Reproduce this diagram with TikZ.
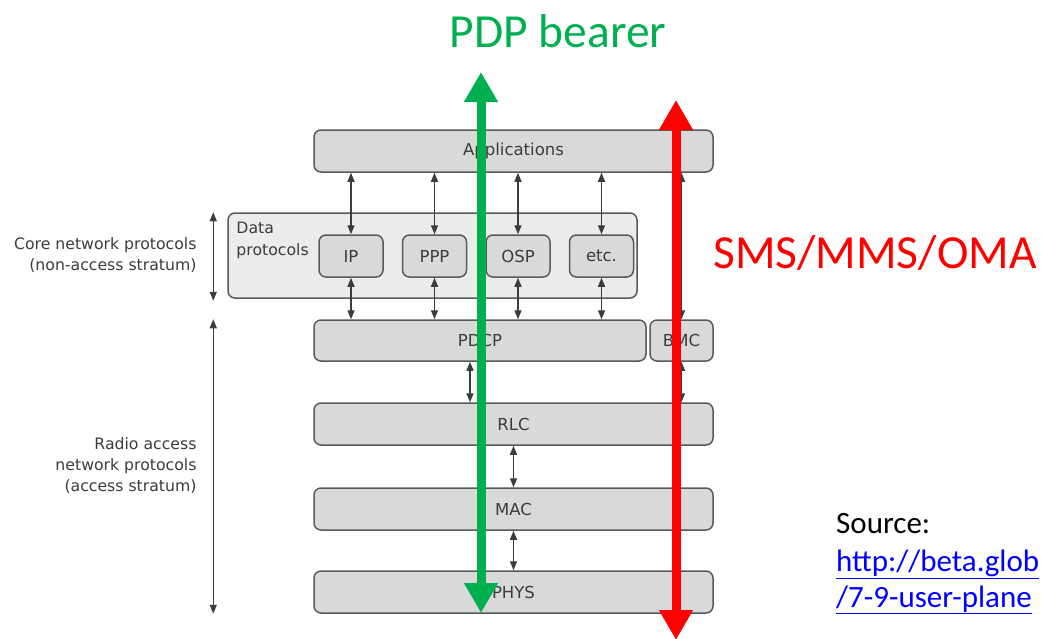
\documentclass[tikz,border=0pt]{standalone}
\usepackage{fontspec}
\setmainfont{Carlito}
\newfontfamily\diagfont{DejaVu Sans}
\usetikzlibrary{arrows.meta,positioning}

\definecolor{boxgray}{HTML}{D9D9D9}
\definecolor{panelgray}{HTML}{ECECEC}
\definecolor{edgegray}{HTML}{595959}
\definecolor{inkgray}{HTML}{3C3C3C}
\definecolor{bearergreen}{HTML}{00B050}

\tikzset{
  layer/.style={draw=edgegray, line width=1.5pt, fill=boxgray, rounded corners=7pt,
    minimum width=399pt, minimum height=42pt, inner sep=0pt,
    font=\diagfont\fontsize{16.5}{18}\selectfont, text=inkgray},
  proto/.style={layer, minimum width=64pt},
  panel/.style={draw=edgegray, line width=1.5pt, fill=panelgray, rounded corners=7pt,
    minimum width=409pt, minimum height=85pt},
  side/.style={align=right, font=\diagfont\fontsize{15.7}{21}\selectfont, text=inkgray},
  link/.style={{Triangle[width=7pt,length=9pt]}-{Triangle[width=7pt,length=9pt]},
    line width=1.4pt, draw=inkgray},
  bearer/.style={{Triangle[width=32pt,length=30pt]}-{Triangle[width=32pt,length=30pt]},
    line width=9pt},
  big/.style={font=\fontsize{47.5}{50}\selectfont},
  cite/.style={anchor=base west, inner sep=0pt, font=\fontsize{31}{36}\selectfont},
}

\begin{document}
\begin{tikzpicture}[x=1pt,y=-1pt]
  \clip (0,0) rectangle (1042,638);

  % protocol stack
  \node[layer] (apps) at (513.5,151) {Applications};
  \node[panel] (dataprot) at (432.5,255.5) {};
  \node[anchor=north west, align=left, inner sep=0pt, font=\diagfont\fontsize{15.7}{22}\selectfont, text=inkgray]
    (dplabel) at ([shift={(9pt,-10pt)}]dataprot.north west) {Data\\protocols};
  \node[proto] (ip) at (351,256) {IP};
  \node[proto] (ppp) [right=18pt of ip] {PPP};
  \node[proto] (osp) [right=18pt of ppp] {OSP};
  \node[proto] (etc) [right=18pt of osp] {etc.};
  \node[layer, minimum width=332pt, minimum height=41pt] (pdcp) at (480,340.5) {PDCP};
  \node[layer, minimum width=63pt, minimum height=41pt] (bmc) at (681.5,340.5) {BMC};
  \node[layer] (rlc) at (513.5,424) {RLC};
  \node[layer] (mac) at (513.5,509) {MAC};
  \node[layer] (phys) at (513.5,592) {PHYS};

  % links between layers
  \foreach \p in {ip,ppp,osp,etc} {
    \draw[link] (\p.north) -- (\p.north |- apps.south);
    \draw[link] (\p.south) -- (\p.south |- pdcp.north);
  }
  \draw[link] (bmc.north) -- (bmc.north |- apps.south);
  \draw[link] (bmc.south) -- (bmc.south |- rlc.north);
  \draw[link] ([xshift=-10pt]pdcp.south) -- ([xshift=-10pt]pdcp.south |- rlc.north);
  \draw[link] (rlc.south) -- (mac.north);
  \draw[link] (mac.south) -- (phys.north);

  % strata on the left
  \coordinate (coretop) at ([xshift=-14pt]dataprot.north west);
  \coordinate (corebot) at ([xshift=-14pt,yshift=-2pt]dataprot.south west);
  \coordinate (radtop) at (coretop |- pdcp.north);
  \coordinate (radbot) at (coretop |- phys.south);
  \draw[link] (coretop) -- (corebot);
  \draw[link] (radtop) -- (radbot);
  \node[side, anchor=east] (corelabel) at (200,255.5) {Core network protocols\\(non-access stratum)};
  \node[side, anchor=east] (radlabel) at (200,466) {Radio access\\network protocols\\(access stratum)};

  % bearers
  \coordinate (pdptop) at (481,72);
  \coordinate (pdpbot) at (481,613);
  \coordinate (smstop) at (676,100);
  \coordinate (smsbot) at (676,640);
  \draw[bearer, bearergreen] (pdptop) -- (pdpbot);
  \draw[bearer, red] (smstop) -- (smsbot);
  \node[big, text=bearergreen] (pdplabel) at (558,31) {PDP bearer};
  \node[big, text=red, anchor=west, inner sep=0pt] (smslabel) at (713,253) {SMS/MMS/OMA};

  % source
  \node[cite] (source) at (836,533) {Source:};
  \node[cite, text=blue] (url) at (836,571) {\underline{http://beta.glob}};
  \node[cite, text=blue] (urlend) at (836,607) {\underline{/7-9-user-plane}};
\end{tikzpicture}
\end{document}
